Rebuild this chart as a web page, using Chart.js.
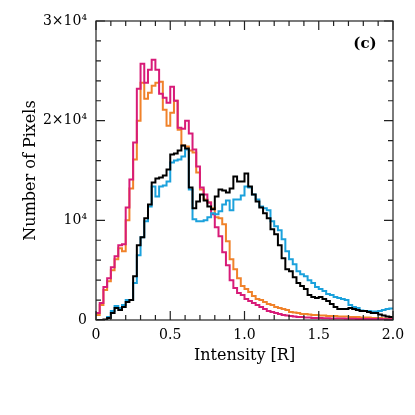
<!DOCTYPE html>
<html>
<head>
<meta charset="utf-8">
<script src="https://cdn.jsdelivr.net/npm/chart.js@4/dist/chart.umd.min.js"></script>
<style>
  html, body { margin: 0; padding: 0; background: #fff; }
  #wrap { width: 415px; height: 415px; }
</style>
</head>
<body>
<div id="wrap"><canvas id="histChart"></canvas></div>
<script>
// ===== データ (ビン幅 0.025, 0〜2) =====
const binWidth = 0.025;
const xTicks = [0, 0.5, 1, 1.5, 2];
const yTicks = [0, 10000, 20000, 30000];
const yTickLabels = ['0', '10⁴', '2×10⁴', '3×10⁴'];

const pinkCounts = [
  700, 1700, 3300, 4200, 5300, 6400, 7500, 7600, 11300, 14100,
  17800, 23200, 25700, 23800, 25100, 26100, 25100, 22700, 22300, 21800,
  23400, 22000, 19300, 19200, 20000, 18700, 17100, 15400, 13300, 12600,
  11800, 10600, 9300, 8400, 6800, 5500, 4000, 3200, 2700, 2500,
  2100, 1900, 1700, 1500, 1300, 1100, 900, 800, 700, 600,
  500, 450, 400, 350, 300, 300, 250, 250, 200, 200,
  200, 180, 170, 160, 150, 150, 140, 130, 120, 120,
  110, 110, 100, 100, 100, 90, 90, 80, 80, 80
];
const orangeCounts = [
  500, 1500, 3000, 3900, 5000, 6100, 7200, 6900, 10000, 13200,
  16100, 20000, 23800, 22200, 22800, 23500, 23800, 23900, 21100, 19500,
  20800, 22000, 19100, 17500, 17400, 17000, 16800, 14800, 13100, 12100,
  11800, 11200, 10300, 10200, 9600, 7900, 6100, 5100, 4200, 3400,
  3100, 2800, 2400, 2100, 2000, 1800, 1600, 1500, 1300, 1200,
  1100, 1000, 800, 750, 700, 600, 600, 550, 500, 500,
  450, 450, 400, 400, 400, 350, 350, 350, 300, 300,
  300, 250, 250, 250, 200, 200, 200, 150, 150, 150
];
const blackCounts = [
  0, 0, 50, 200, 700, 1200, 1000, 1300, 1800, 2000,
  4400, 7500, 8300, 10200, 11600, 13800, 14200, 14300, 14500, 15100,
  16600, 16700, 17000, 17500, 17200, 13300, 11200, 11900, 12600, 12000,
  11400, 11100, 12400, 13100, 13000, 12800, 13200, 14400, 13900, 13900,
  14700, 13400, 12600, 11900, 11300, 10700, 10200, 9100, 8600, 7500,
  6200, 5100, 4900, 4300, 3700, 3400, 3100, 2500, 2300, 2200,
  2300, 2100, 1900, 1600, 1300, 1100, 1100, 1100, 1200, 1100,
  1000, 900, 900, 800, 700, 700, 550, 450, 350, 300
];
const blueCounts = [
  0, 0, 0, 300, 900, 1400, 1200, 1500, 2000, 2000,
  3700, 6500, 8300, 9900, 11400, 13400, 12400, 13400, 13500, 13900,
  15800, 16000, 16100, 16400, 17100, 13100, 10100, 9900, 9900, 10000,
  10300, 10700, 10600, 10900, 11600, 12000, 11000, 12100, 12100, 12500,
  13400, 13300, 12600, 12100, 11400, 11200, 11000, 9900, 9400, 9000,
  8100, 6900, 6100, 5600, 4900, 4600, 4400, 4000, 3700, 3300,
  3100, 2900, 2600, 2500, 2300, 2200, 2100, 2000, 1500, 1300,
  1200, 950, 900, 900, 850, 850, 900, 1000, 1100, 1150
];

const FONT = '"DejaVu Serif", serif';

// ヒストグラムの輪郭 (各ビンの左端・右端)
function histPoints(counts) {
  const pts = [];
  counts.forEach((c, i) => {
    pts.push({ x: i * binWidth, y: c });
    pts.push({ x: (i + 1) * binWidth, y: c });
  });
  return pts;
}

function histDataset(counts, color) {
  return {
    data: histPoints(counts),
    borderColor: color,
    borderWidth: 2,
    pointRadius: 0,
    tension: 0,
    fill: false,
  };
}

// ===== 枠と内向きの目盛り =====
const frameTicks = {
  id: 'frameTicks',
  afterDatasetsDraw(chart) {
    const { ctx, chartArea: a, scales: { x, y } } = chart;
    ctx.save();
    ctx.strokeStyle = '#222';
    ctx.lineWidth = 1.2;
    ctx.strokeRect(a.left, a.top, a.right - a.left, a.bottom - a.top);

    ctx.beginPath();
    for (let i = 0; i <= 20; i++) {
      const px = x.getPixelForValue(i / 10);
      const len = i % 5 === 0 ? 9 : 5;
      ctx.moveTo(px, a.bottom); ctx.lineTo(px, a.bottom - len);
      ctx.moveTo(px, a.top); ctx.lineTo(px, a.top + len);
    }
    for (let v = 0; v <= 30000; v += 2000) {
      const py = y.getPixelForValue(v);
      const len = v % 10000 === 0 ? 9 : 5;
      ctx.moveTo(a.left, py); ctx.lineTo(a.left + len, py);
      ctx.moveTo(a.right, py); ctx.lineTo(a.right - len, py);
    }
    ctx.stroke();

    ctx.fillStyle = '#000';
    ctx.font = 'bold 15px ' + FONT;
    ctx.textAlign = 'center';
    ctx.textBaseline = 'middle';
    ctx.fillText('(c)', 365, 44);
    ctx.restore();
  }
};

new Chart(document.getElementById('histChart'), {
  type: 'line',
  data: {
    datasets: [
      histDataset(blackCounts, '#000000'),
      histDataset(blueCounts, '#1ba1dc'),
      histDataset(pinkCounts, '#d81b78'),
      histDataset(orangeCounts, '#f0822a'),
    ]
  },
  options: {
    responsive: true, maintainAspectRatio: false,
    animation: false,
    layout: { padding: { top: 21, right: 22, left: 0, bottom: 0 } },
    plugins: { legend: { display: false }, tooltip: { enabled: false } },
    scales: {
      x: {
        type: 'linear', min: 0, max: 2,
        afterFit: s => { s.height = 95; },
        afterBuildTicks: s => { s.ticks = xTicks.map(v => ({ value: v })); },
        grid: { display: false, drawTicks: false },
        border: { display: false },
        ticks: { color: '#000', padding: 7, maxRotation: 0, font: { family: FONT, size: 14 } },
        title: {
          display: true, text: 'Intensity [R]', color: '#000',
          font: { family: FONT, size: 16 }, padding: { top: 0, bottom: 50 }
        }
      },
      y: {
        type: 'linear', min: 0, max: 30000,
        afterFit: s => { s.width = 96; },
        afterBuildTicks: s => { s.ticks = yTicks.map(v => ({ value: v })); },
        grid: { display: false, drawTicks: false },
        border: { display: false },
        ticks: {
          color: '#000', padding: 9, font: { family: FONT, size: 14 },
          callback: v => yTickLabels[yTicks.indexOf(v)]
        },
        title: {
          display: true, text: 'Number of Pixels', color: '#000',
          font: { family: FONT, size: 16 }, padding: { top: 21, bottom: 0 }
        }
      }
    }
  },
  plugins: [frameTicks]
});
</script>
</body>
</html>
